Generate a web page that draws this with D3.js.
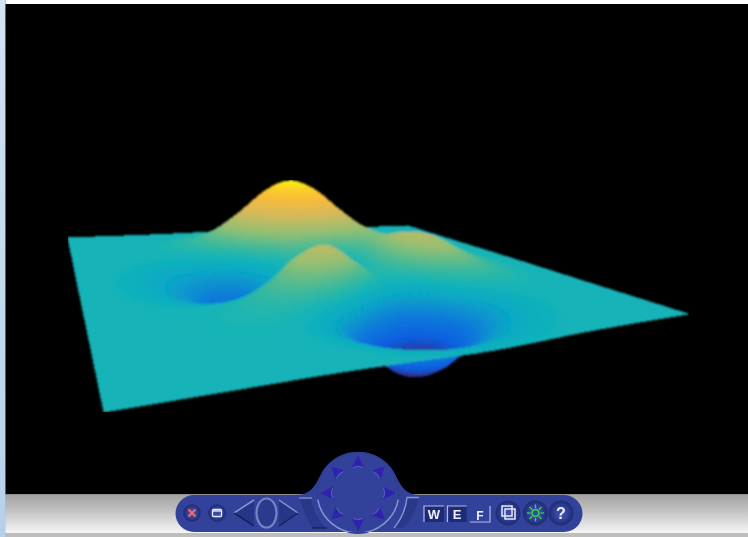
<!DOCTYPE html>
<html><head><meta charset="utf-8">
<style>html,body{margin:0;padding:0;background:#fff;overflow:hidden}svg{display:block}</style>
<script src="https://cdnjs.cloudflare.com/ajax/libs/d3/7.8.5/d3.min.js"></script>
</head><body><svg id="c" width="748" height="537"></svg>
<script>
// Surface sample positions
const xSamples=[-3,-2.625,-2.25,-1.875,-1.5,-1.125,-.75,-.375,0,.375,.75,1.125,1.5,1.875,2.25,2.625,3];
const ySamples=[-3,-2.625,-2.25,-1.875,-1.5,-1.125,-.75,-.375,0,.375,.75,1.125,1.5,1.875,2.25,2.625,3];
// Heights, one row per y sample (near edge first)
const heights=[
[0,0,0,.01,.01,-.02,-.08,-.17,-.25,-.24,-.17,-.08,-.03,-.01,0,0,0],
[0,0,0,.01,0,-.09,-.35,-.74,-1.05,-1.02,-.71,-.35,-.12,-.03,-.01,0,0],
[0,0,.01,.04,.01,-.25,-.9,-1.9,-2.8,-2.7,-1.75,-.85,-.35,-.08,-.01,0,0],
[0,.01,.03,.08,.09,-.28,-1.4,-3.2,-5,-5.2,-3.2,-1.6,-.59,-.12,-.01,0,0],
[0,0,.03,.13,.33,.34,-.66,-3.09,-5.65,-6.16,-4.1,-1.88,-.44,.01,.05,.02,0],
[-.01,-.02,-.05,.01,.42,1.28,1.74,.43,-2.16,-3.48,-2.36,-.47,.46,.44,.19,.05,.01],
[-.02,-.08,-.25,-.49,-.28,1.09,3.09,3.43,1.39,-.36,.2,1.56,1.77,1.08,.41,.11,.02],
[-.03,-.15,-.53,-1.24,-1.71,-.66,1.9,3.25,1.86,.43,1.36,2.93,2.85,1.65,.62,.16,.03],
[-.03,-.19,-.69,-1.73,-2.76,-2.3,.08,1.78,.98,.14,1.56,3.39,3.26,1.88,.7,.18,.03],
[-.03,-.17,-.63,-1.62,-2.73,-2.63,-.78,.77,.41,0,1.37,2.96,2.83,1.62,.6,.16,.03],
[-.02,-.11,-.42,-1.07,-1.76,-1.55,-.04,1.39,1.42,1.09,1.64,2.31,1.99,1.1,.4,.1,.02],
[-.01,-.05,-.18,-.41,-.43,.43,2.43,4.46,5.08,4.36,3.33,2.39,1.45,.67,.23,.06,.01],
[0,-.01,-.03,.03,.47,1.87,4.36,6.93,7.96,6.9,4.7,2.6,1.18,.43,.12,.03,0],
[0,0,.02,.15,.62,1.83,3.87,5.99,6.89,5.98,3.97,2.04,.82,.26,.06,.01,0],
[0,0,.02,.1,.36,1,2.06,3.16,3.64,3.16,2.08,1.05,.4,.12,.03,0,0],
[0,0,.01,.03,.13,.35,.72,1.09,1.26,1.09,.72,.36,.14,.04,.01,0,0],
[0,0,0,.01,.03,.08,.17,.26,.3,.26,.17,.08,.03,.01,0,0,0]
];
// Colour ramp
const rampStops=[-5.6,-4.2,-3,-1.1,0,1,2.58,4.4,6.1,7.3,8];
const rampColors=["#352a87","#0a5fe0","#0f74dc","#06a7c6","#14b4b8","#3cb99c","#92bf73","#d6b95a","#f8bc3a","#fbd325","#f9f50e"];

const W=748,H=537;
const svg=d3.select("#c");
const color=d3.scaleLinear().domain(rampStops).range(rampColors).interpolate(d3.interpolateRgb).clamp(true);
const zLift=d3.scaleLinear().domain([0,1]).range([0,20.1]);

// Perspective map of the base plane
const g=0.7906,h=1.3687,A=1128,B=57.07,C=104,D=150.2,E=151.7,F=412;
function project(u,v,z){
  const w=1+g*u+h*v;
  return [(A*u+B*v+C)/w,(D*u+E*v+F)/w-zLift(z)/w];
}
function cr(p0,p1,p2,p3,t){
  return .5*(2*p1+(p2-p0)*t+(2*p0-5*p1+4*p2-p3)*t*t+(3*p1-p0-3*p2+p3)*t*t*t);
}
function at(i,j){
  const r=Math.max(0,Math.min(heights.length-1,j)),c=Math.max(0,Math.min(heights[0].length-1,i));
  return heights[r][c];
}
function surf(a,b){
  const i=Math.min(Math.floor(a),xSamples.length-2),j=Math.min(Math.floor(b),ySamples.length-2);
  const s=a-i,t=b-j;
  const col=[-1,0,1,2].map(d=>cr(at(i-1,j+d),at(i,j+d),at(i+1,j+d),at(i+2,j+d),s));
  return cr(col[0],col[1],col[2],col[3],t);
}
svg.append("rect").attr("width",W).attr("height",H).attr("fill","#fff");
const defs=svg.append("defs");
const lg=defs.append("linearGradient").attr("id","floor").attr("x1",0).attr("x2",0).attr("y1",0).attr("y2",1);
lg.append("stop").attr("offset",0).attr("stop-color","#a2a2a2");
lg.append("stop").attr("offset",.35).attr("stop-color","#bcbcbc");
lg.append("stop").attr("offset",1).attr("stop-color","#f6f6f6");
const lb=defs.append("linearGradient").attr("id","side").attr("x1",0).attr("x2",0).attr("y1",0).attr("y2",1);
lb.append("stop").attr("offset",0).attr("stop-color","#d2e4f4");
lb.append("stop").attr("offset",1).attr("stop-color","#b7d0ea");
const rb=defs.append("radialGradient").attr("id","knob");
rb.append("stop").attr("offset",.35).attr("stop-color","#3a4aa6");
rb.append("stop").attr("offset",1).attr("stop-color","#1e2a72");
defs.append("filter").attr("id","soft").attr("x",0).attr("y",0).attr("width",1).attr("height",1)
  .append("feGaussianBlur").attr("stdDeviation",.5);
defs.append("filter").attr("id","softer").attr("x",0).attr("y",0).attr("width",1).attr("height",1)
  .append("feGaussianBlur").attr("stdDeviation",.85);
const barPath="M194,495 L296,495 C312,495 316,484 322,472 A42,42 0 0 1 394,472 C400,484 404,495 420,495 L564,495 A18.5,18.5 0 0 1 564,532 L194,532 A18.5,18.5 0 0 1 194,495Z";
defs.append("clipPath").attr("id","barclip").append("path").attr("d",barPath);

svg.append("rect").attr("x",0).attr("y",0).attr("width",5.5).attr("height",H).attr("fill","url(#side)");
svg.append("rect").attr("x",5).attr("y",0).attr("width",1).attr("height",H).attr("fill","#8ea6c0").attr("fill-opacity",.6);
svg.append("rect").attr("x",5.5).attr("y",4).attr("width",W-5.5).attr("height",490.5).attr("fill","#000");
svg.append("rect").attr("x",5.5).attr("y",494.5).attr("width",W-5.5).attr("height",38.5).attr("fill","url(#floor)");
svg.append("rect").attr("x",5.5).attr("y",533).attr("width",W-5.5).attr("height",4).attr("fill","#bdbdbd");

// Mesh
const N=9, nx=(xSamples.length-1)*N, ny=(ySamples.length-1)*N;
const xAt=d3.scaleLinear().domain([0,nx]).range([0,xSamples.length-1]);
const yAt=d3.scaleLinear().domain([0,ny]).range([0,ySamples.length-1]);
const vals=d3.range(ny+1).map(j=>d3.range(nx+1).map(i=>surf(xAt(i),yAt(j))));
const un=d3.scaleLinear().domain([0,nx]).range([0,1]),vn=d3.scaleLinear().domain([0,ny]).range([0,1]);
const pts=vals.map((row,j)=>row.map((z,i)=>project(un(i),vn(j),z)));
const cells=[];
for(let j=0;j<ny;j++)for(let i=0;i<nx;i++){
  const z=(vals[j][i]+vals[j][i+1]+vals[j+1][i]+vals[j+1][i+1])/4;
  const u=un(i+.5),v=vn(j+.5);
  cells.push({p:[pts[j][i],pts[j][i+1],pts[j+1][i+1],pts[j+1][i]],z,depth:1+g*u+h*v});
}
cells.sort((a,b)=>b.depth-a.depth);
const ln=d3.line();
svg.append("g").attr("filter","url(#softer)").attr("shape-rendering","crispEdges").selectAll("path").data(cells).join("path")
  .attr("d",d=>ln(d.p)+"Z")
  .attr("fill",d=>color(d.z)).attr("stroke",d=>color(d.z)).attr("stroke-width",1);

// Toolbar
const bar="#33439b",barD="#26327f",barL="#8a94d0",tri="#2f22ae";
const t=svg.append("g").attr("filter","url(#soft)");
t.append("path").attr("fill",bar).attr("d",barPath);
t.append("circle").attr("cx",358).attr("cy",493).attr("r",40.5).attr("fill",bar).attr("stroke","#2b3a90").attr("stroke-width",1);
const wheelRim=t.append("g").attr("clip-path","url(#barclip)");
wheelRim.append("path").attr("fill","none").attr("stroke",barL).attr("stroke-width",1.5)
 .attr("transform","translate(358,492)")
 .attr("d",d3.arc()({innerRadius:41,outerRadius:41,startAngle:Math.PI*.56,endAngle:Math.PI*1.44}));
d3.range(8).forEach(k=>{
  const g2=t.append("g").attr("transform",`translate(358,493) rotate(${k*45})`);
  g2.append("path").attr("d","M0,-38 L6.5,-25 Q0,-28.5 -6.5,-25Z").attr("fill",tri);
  g2.append("path").attr("d","M-5,-25.5 Q0,-28 5,-25.5").attr("fill","none").attr("stroke",barL).attr("stroke-opacity",.5).attr("stroke-width",.9);
});
// Side brackets
t.append("path").attr("d","M299,497.5 L311,497.5 Q313,514 326,528 L312,528 Q304,514 299,497.5Z").attr("fill",barD).attr("fill-opacity",.55);
t.append("path").attr("d","M299,498 L312,498").attr("stroke",barL).attr("stroke-width",1.3);
t.append("path").attr("d","M312,528 L327,528").attr("stroke","#161d55").attr("stroke-width",1.3);
t.append("path").attr("d","M419,497.5 L407,497.5 Q405,515 394,528 L404,528 Q415,516 419,497.5Z").attr("fill",barD).attr("fill-opacity",.55);
t.append("path").attr("d","M419,497.5 L407,497.5 Q405,515 394,528").attr("fill","none").attr("stroke",barL).attr("stroke-width",1.4);
// Dolly arrows
t.append("path").attr("d","M234,513 L254,500 L254,526Z").attr("fill",barD).attr("fill-opacity",.75);
t.append("path").attr("d","M234,513 L254,500").attr("stroke",barL).attr("stroke-width",1.5);
t.append("path").attr("d","M234,513 L254,526").attr("stroke","#182060").attr("stroke-width",1.5);
t.append("path").attr("d","M298,513 L279,500 L279,526Z").attr("fill",barD).attr("fill-opacity",.75);
t.append("path").attr("d","M298,513 L279,500").attr("stroke",barL).attr("stroke-width",1.5);
t.append("path").attr("d","M298,513 L279,526").attr("stroke","#182060").attr("stroke-width",1.5);
t.append("ellipse").attr("cx",266.5).attr("cy",513).attr("rx",10).attr("ry",14.5).attr("fill",barD).attr("fill-opacity",.5).attr("stroke",barL).attr("stroke-opacity",.8).attr("stroke-width",2.2);
// Round buttons
function btn(cx,r){
  t.append("circle").attr("cx",cx).attr("cy",513).attr("r",r).attr("fill","url(#knob)");
}
btn(192,8.8);
t.append("path").attr("d","M188.5,509.5 L195.5,516.5 M195.5,509.5 L188.5,516.5").attr("stroke","#f06a6a").attr("stroke-width",2.2);
btn(217,8.8);
t.append("rect").attr("x",212.5).attr("y",509.5).attr("width",9).attr("height",7).attr("rx",1).attr("fill","none").attr("stroke","#e4e8f8").attr("stroke-width",1.4);
t.append("path").attr("d","M212.5,511 L221.5,511").attr("stroke","#e4e8f8").attr("stroke-width",1.4);
btn(508,12.5);
t.append("rect").attr("x",502).attr("y",506).attr("width",10).attr("height",10).attr("fill","none").attr("stroke","#e4e8f8").attr("stroke-width",1.5);
t.append("rect").attr("x",505).attr("y",509).attr("width",10).attr("height",10).attr("fill","none").attr("stroke","#e4e8f8").attr("stroke-width",1.5);
btn(535.5,12.5);
t.append("circle").attr("cx",535.5).attr("cy",513).attr("r",3.4).attr("fill","none").attr("stroke","#35e04a").attr("stroke-width",1.4);
d3.range(8).forEach(k=>t.append("path").attr("transform",`translate(535.5,513) rotate(${k*45})`).attr("d","M0,-5 L0,-8.5").attr("stroke","#35e04a").attr("stroke-width",1.2));
btn(561,12.5);
t.append("text").attr("x",561).attr("y",519).attr("text-anchor","middle").attr("font-family","Liberation Sans").attr("font-weight","bold").attr("font-size",16).attr("fill","#eef1fb").text("?");
// W E F keys
[["W",424,20,false],["E",447.5,19,false],["F",470,20,true]].forEach(([s,x,w,on])=>{
  t.append("rect").attr("x",x).attr("y",506).attr("width",w).attr("height",16).attr("fill",on?bar:"#1f2b78");
  t.append("path").attr("d",on?`M${x},522 H${x+w} V506`:`M${x},522 V506 H${x+w}`).attr("fill","none").attr("stroke","#b4bbe6").attr("stroke-width",1.2);
  t.append("text").attr("x",x+w/2).attr("y",on?520:519).attr("text-anchor","middle").attr("font-family","Liberation Sans").attr("font-weight","bold").attr("font-size",on?12:13).attr("fill","#eef1fb").text(s);
});
</script></body></html>
